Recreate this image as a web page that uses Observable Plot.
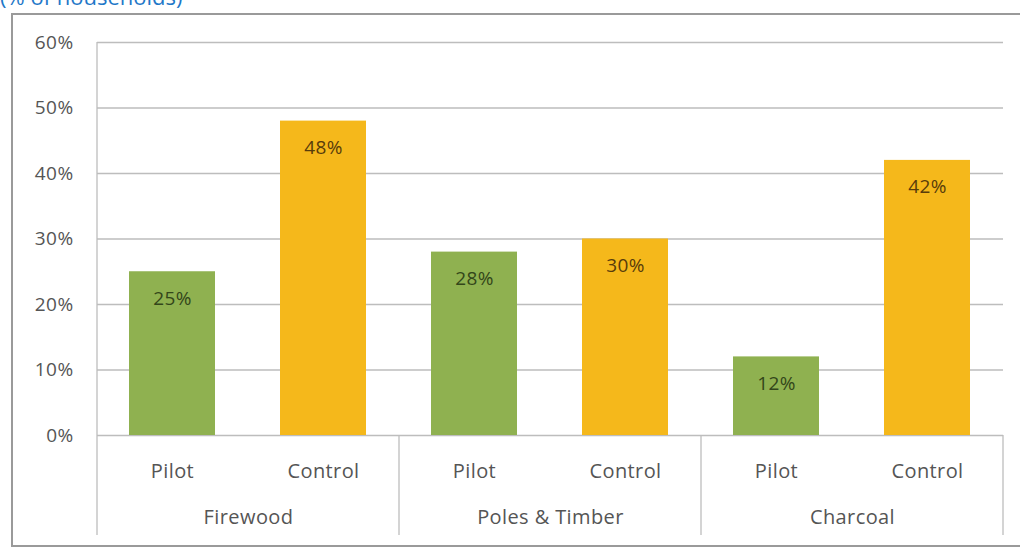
<!DOCTYPE html>
<html>
<head>
<meta charset="utf-8">
<script src="https://cdn.jsdelivr.net/npm/d3@7"></script>
<script src="https://cdn.jsdelivr.net/npm/@observablehq/plot@0.6"></script>
<style>
  html, body { margin: 0; padding: 0; background: #fff; }
  #wrap { position: relative; width: 1020px; height: 558px; overflow: hidden; font-family: "Open Sans", sans-serif; }
  #title { position: absolute; left: 0; top: -19px; font-size: 22px; color: #1f78c8; white-space: nowrap; }
  #frame { position: absolute; left: 11px; top: 13px; width: 1040px; height: 530px; border: 2px solid #9a9a9a; box-sizing: content-box; }
  #chart { position: absolute; left: 0; top: 0; }
  #chart svg text { letter-spacing: 0.4px; }
</style>
</head>
<body>
<div id="wrap">
  <div id="title">(% of households)</div>
  <div id="frame"></div>
  <div id="chart"></div>
</div>
<script>
// Share of households by resource type, pilot vs. control villages
const resources = ["Firewood", "Poles & Timber", "Charcoal"];
const groups = ["Pilot", "Control"];
const pilotValues = [25, 28, 12];
const controlValues = [48, 30, 42];
const yTicks = [0, 10, 20, 30, 40, 50, 60];
const colors = ["#8fb150", "#f5b81b"];

const data = resources.flatMap((r, i) => [
  {resource: r, group: "Pilot", value: pilotValues[i]},
  {resource: r, group: "Control", value: controlValues[i]}
]);

const font = "Open Sans, sans-serif";
const labelSize = 19;

const plot = Plot.plot({
  width: 1020,
  height: 558,
  marginLeft: 96,
  marginRight: 17,
  marginTop: 42,
  marginBottom: 123,
  style: {fontFamily: font, fontSize: labelSize + "px", background: "transparent", overflow: "visible"},
  fx: {domain: resources, padding: 0},
  x: {domain: groups, paddingInner: 0.43, paddingOuter: 0.215},
  y: {domain: [0, 60]},
  color: {domain: groups, range: colors},
  marks: [
    Plot.gridY(yTicks, {stroke: "#bdbdbd", strokeOpacity: 1, strokeWidth: 1.3}),
    Plot.axisY(yTicks, {
      tickSize: 0, tickPadding: 24, tickFormat: d => d + "%",
      fill: "#555", fontSize: labelSize, label: null
    }),
    Plot.barY(data, {fx: "resource", x: "group", y: "value", fill: "group"}),
    Plot.text(data.filter(d => d.group === "Pilot"), {
      fx: "resource", x: "group", y: "value", dy: 27,
      text: d => d.value + "%", fill: "#33461a", fontSize: labelSize
    }),
    Plot.text(data.filter(d => d.group === "Control"), {
      fx: "resource", x: "group", y: "value", dy: 27,
      text: d => d.value + "%", fill: "#583c0b", fontSize: labelSize
    }),
    Plot.axisX({
      anchor: "bottom", tickSize: 0, tickPadding: 28,
      fill: "#555", fontSize: labelSize + 1, label: null
    }),
    Plot.axisFx({
      anchor: "bottom", tickSize: 0, tickPadding: 74,
      fill: "#555", fontSize: labelSize + 1, label: null
    })
  ]
});

document.getElementById("chart").appendChild(plot);

// Value axis line and category separators, placed from the plot's own scales
const fx = plot.scale("fx");
const y = plot.scale("y");
const svg = d3.select(plot);
const edges = resources.map(r => fx.apply(r)).concat([fx.apply(resources[resources.length - 1]) + fx.bandwidth]);
const y0 = y.apply(0);
const yTop = y.apply(60);
const g = svg.append("g").attr("stroke", "#bdbdbd").attr("stroke-width", 1.3);
g.append("line").attr("x1", edges[0]).attr("x2", edges[0]).attr("y1", yTop).attr("y2", y0);
edges.forEach(e => {
  g.append("line").attr("x1", e).attr("x2", e).attr("y1", y0).attr("y2", y0 + 100);
});
</script>
</body>
</html>
